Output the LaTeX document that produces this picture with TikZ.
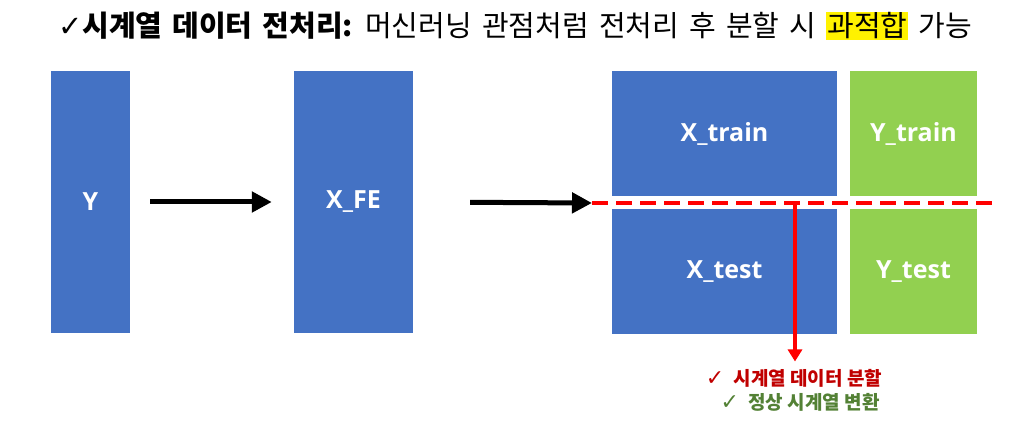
\documentclass[tikz,border=0pt]{standalone}
\usepackage{fontspec}
\setmainfont{Noto Sans CJK KR}
\newfontfamily\symfont{DejaVu Sans}
\newfontfamily\boxfont{Open Sans}
\usetikzlibrary{arrows.meta}
\definecolor{boxblue}{HTML}{4472C4}
\definecolor{boxgreen}{HTML}{92D050}
\definecolor{splitred}{HTML}{C00000}
\definecolor{statgreen}{HTML}{538135}
\tikzset{
  xbox/.style={
    fill=boxblue,
    inner sep=0pt,
    text=white,
    font=\boxfont\bfseries\fontsize{25}{28}\selectfont
  },
  ybox/.style={
    xbox,
    fill=boxgreen
  },
  flow/.style={
    line width=5pt,
    -{Triangle[length=20pt,width=20pt]}
  },
  note/.style={
    font=\bfseries\fontsize{19}{22}\selectfont
  }
}

\begin{document}
\begin{tikzpicture}[x=1pt,y=-1pt]
    \useasboundingbox (0,0) rectangle (1023,427);
    \node (title) at (515,26) {\fontsize{29}{32}\selectfont\spaceskip=0.35em{\symfont ✓}\textbf{시계열 데이터 전처리:} 머신러닝 관점처럼 전처리 후 분할 시 {\fboxsep=1pt\colorbox{yellow}{과적합}} 가능};
    % raw series and features
    \node[xbox,minimum width=79,minimum height=262] (y) at (90.5,202) {Y};
    \node[xbox,minimum width=119,minimum height=262] (xfe) at (353.5,202) {X\_FE};
    % split blocks
    \foreach \name/\lbl/\yy in {train/train/133.5,test/test/271.5}{
        \node[xbox,minimum width=225,minimum height=125] (x\name) at (724.5,\yy) {X\_\lbl};
        \node[ybox,minimum width=127,minimum height=125] (y\name) at (913.5,\yy) {Y\_\lbl};
    }
    \coordinate (cutl) at (592,203);
    \coordinate (cutr) at (999,203);
    \coordinate (drop) at (795,203);
    \draw[flow,shorten <=20pt,shorten >=22pt] (y.east) -- (xfe.west);
    \draw[flow,shorten <=57pt] (xfe.east) -- (cutl);
    \draw[red,line width=4pt,dash pattern=on 16pt off 8pt] (cutl) -- (cutr);
    \node[note,text=splitred] (split) at (794,378) {{\symfont\fontsize{22}{22}\selectfont ✓}\enspace 시계열 데이터 분할};
    \node[note,text=statgreen] (stat) at (800,402) {{\symfont\fontsize{22}{22}\selectfont ✓}\enspace 정상 시계열 변환};
    \draw[red,line width=4pt,-{Triangle[length=12pt,width=14pt]}] (drop) -- ([yshift=4pt]split.north -| drop);
\end{tikzpicture}
\end{document}
